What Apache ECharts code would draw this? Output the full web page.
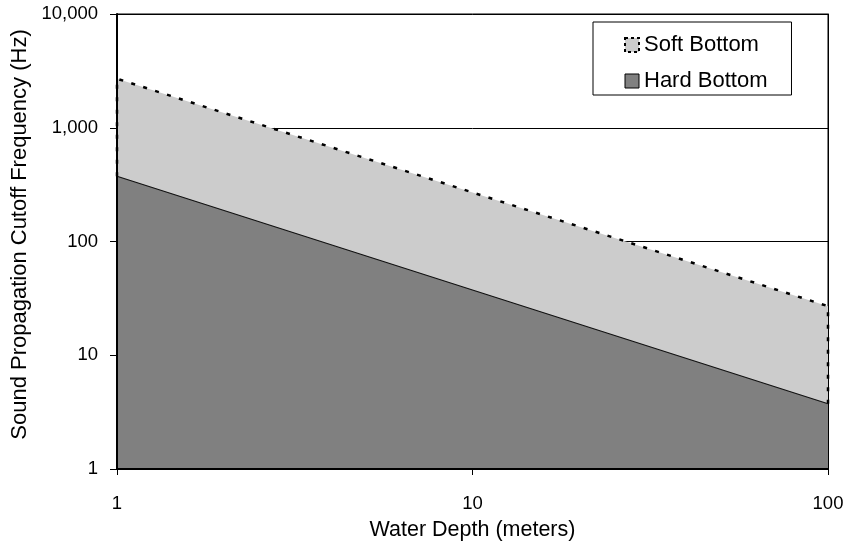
<!DOCTYPE html>
<html>
<head>
<meta charset="utf-8">
<script src="https://cdn.jsdelivr.net/npm/echarts@6/dist/echarts.min.js"></script>
<style>
  html, body { margin: 0; padding: 0; background: #fff; }
  #chart { width: 850px; height: 541px; }
</style>
</head>
<body>
<div id="chart"></div>
<script>
// Water depth (m) and cutoff frequency (Hz) for the two bottom types
const depths = [1, 10, 100];
const softBottom = [2700, 270, 27];
const hardBottom = [375, 37.5, 3.75];
const yTicks = [1, 10, 100, 1000, 10000];
const xTicks = [1, 10, 100];

const FONT = '"Liberation Sans", Arial, sans-serif';

// Soft-bottom band outline: up the left edge from the hard value, along the
// soft curve, then down the right edge to the hard value.
const softOutline = [[depths[0], hardBottom[0]]]
  .concat(depths.map((d, i) => [d, softBottom[i]]))
  .concat([[depths[depths.length - 1], hardBottom[hardBottom.length - 1]]]);
const hardLine = depths.map((d, i) => [d, hardBottom[i]]);

const fmt = v => Math.round(v).toLocaleString('en-US');

const logY = {
  type: 'log', logBase: 10, min: yTicks[0], max: yTicks[yTicks.length - 1]
};

const chart = echarts.init(document.getElementById('chart'), null, { renderer: 'canvas' });
chart.setOption({
  backgroundColor: '#ffffff',
  animation: false,
  grid: {
    left: 117, right: 22, top: 14, bottom: 72,
    containLabel: false,
    outerBoundsMode: 'none',
    show: true, borderColor: '#000', borderWidth: 1, backgroundColor: 'transparent'
  },
  legend: {
    orient: 'vertical',
    left: 593, top: 22,
    padding: [12, 24, 3, 31],
    itemGap: 14,
    itemWidth: 14, itemHeight: 14,
    borderColor: '#000', borderWidth: 1,
    backgroundColor: '#fff',
    textStyle: { fontFamily: FONT, fontSize: 22, color: '#000' },
    data: [
      { name: 'Soft Bottom', icon: 'rect',
        itemStyle: { color: '#cccccc', borderColor: '#000', borderWidth: 2, borderType: [3, 3] } },
      { name: 'Hard Bottom', icon: 'rect',
        itemStyle: { color: '#808080', borderColor: '#000', borderWidth: 1, borderType: 'solid' } }
    ]
  },
  xAxis: {
    type: 'log', logBase: 10,
    min: xTicks[0], max: xTicks[xTicks.length - 1],
    z: 10,
    name: 'Water Depth (meters)',
    nameLocation: 'middle', nameGap: 50,
    nameTextStyle: { fontFamily: FONT, fontSize: 21.5, color: '#000' },
    axisLine: { show: true, lineStyle: { color: '#000', width: 2 } },
    axisTick: { show: true, length: 6, lineStyle: { color: '#000', width: 1 } },
    minorTick: { show: false },
    splitLine: { show: false },
    axisLabel: { fontFamily: FONT, fontSize: 18.5, color: '#000', margin: 25, formatter: fmt }
  },
  yAxis: [
    // gridlines, drawn beneath the filled areas
    Object.assign({}, logY, {
      position: 'left',
      axisLine: { show: false }, axisTick: { show: false }, axisLabel: { show: false },
      splitLine: { show: true, lineStyle: { color: '#000', width: 1 } }
    }),
    // visible left axis, drawn above the areas
    Object.assign({}, logY, {
      position: 'left', z: 10,
      name: 'Sound Propagation Cutoff Frequency (Hz)',
      nameLocation: 'middle', nameGap: 86,
      nameTextStyle: { fontFamily: FONT, fontSize: 22, color: '#000', padding: [0, 0, 0, 14] },
      axisLine: { show: true, lineStyle: { color: '#000', width: 2 } },
      axisTick: { show: true, length: 7, lineStyle: { color: '#000', width: 1 } },
      splitLine: { show: false },
      axisLabel: { fontFamily: FONT, fontSize: 18.5, color: '#000', margin: 19, formatter: fmt }
    }),
    // right frame edge
    Object.assign({}, logY, {
      position: 'right', z: 10,
      axisLine: { show: true, lineStyle: { color: '#000', width: 1 } },
      axisTick: { show: false }, axisLabel: { show: false }, splitLine: { show: false }
    })
  ],
  series: [
    {
      name: 'Soft Bottom',
      type: 'line',
      yAxisIndex: 0,
      data: softOutline,
      symbol: 'none',
      clip: false,
      z: 2,
      lineStyle: { color: '#000', width: 2.5, type: [4, 8.5] },
      itemStyle: { color: '#cccccc' },
      areaStyle: { color: '#cccccc', opacity: 1, origin: 'start' }
    },
    {
      name: 'Hard Bottom',
      type: 'line',
      yAxisIndex: 0,
      data: hardLine,
      symbol: 'none',
      z: 3,
      lineStyle: { color: '#111', width: 1.2 },
      itemStyle: { color: '#808080' },
      areaStyle: { color: '#808080', opacity: 1, origin: 'start' }
    }
  ]
});
</script>
</body>
</html>
